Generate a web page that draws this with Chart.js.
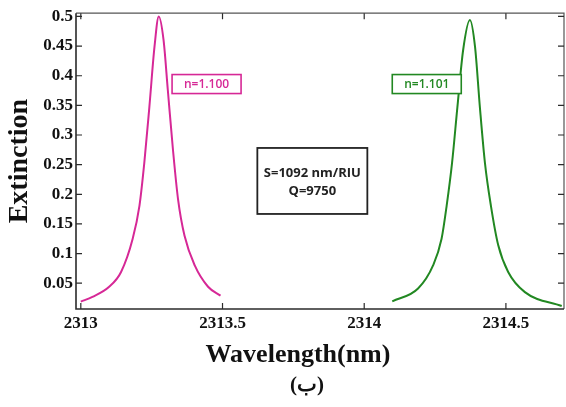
<!DOCTYPE html>
<html>
<head>
<meta charset="utf-8">
<script src="https://cdn.jsdelivr.net/npm/chart.js@4.4.1/dist/chart.umd.min.js"></script>
<style>
  html, body { margin: 0; padding: 0; background: #fff; }
  #wrap { width: 566px; height: 407px; }
</style>
</head>
<body>
<div id="wrap"><canvas id="spectrum" width="566" height="407"></canvas></div>
<script>
// values
const pinkX = [2313.0, 2313.041, 2313.1, 2313.142, 2313.183, 2313.207, 2313.224, 2313.242, 2313.26,
  2313.275, 2313.292, 2313.307, 2313.325, 2313.343, 2313.366, 2313.402, 2313.449, 2313.493];
const pinkY = [0.019, 0.027, 0.044, 0.069, 0.125, 0.181, 0.253, 0.348, 0.449,
  0.5, 0.46, 0.376, 0.276, 0.192, 0.13, 0.08, 0.044, 0.029];

const greenX = [2314.099, 2314.19, 2314.243, 2314.273, 2314.291, 2314.31, 2314.329, 2314.349, 2314.373,
  2314.391, 2314.408, 2314.426, 2314.447, 2314.473, 2314.508, 2314.567, 2314.697];
const greenY = [0.0195, 0.041, 0.08, 0.125, 0.181, 0.253, 0.348, 0.443, 0.494,
  0.449, 0.348, 0.253, 0.181, 0.114, 0.069, 0.035, 0.0115];

const xTicks = [2313, 2313.5, 2314, 2314.5];
const yTicks = [0.05, 0.1, 0.15, 0.2, 0.25, 0.3, 0.35, 0.4, 0.45, 0.5];

const seriesNames = ["n=1.100", "n=1.101"];
const infoLines = ["S=1092 nm/RIU", "Q=9750"];
const xTitle = "Wavelength(nm)";
const figTag = "(ب)";

const PINK = "rgb(214, 40, 150)";
const GREEN = "rgb(34, 136, 34)";
const AXIS = "#2b2b2b";

// where the text boxes sit, in data units (left/top for labels, centre for info box)
const labelAnchors = [[2313.322, 0.402], [2314.099, 0.402]];
const infoAnchor = [2313.817, 0.2225];

const zip = (xs, ys) => xs.map((v, i) => ({ x: v, y: ys[i] }));

const frameTicks = {
  id: "frameTicks",
  afterDatasetsDraw(chart) {
    const { ctx, chartArea: a, scales: { x, y } } = chart;
    ctx.save();
    ctx.lineWidth = 1.2;
    ctx.strokeStyle = "#555";
    ctx.beginPath();
    ctx.moveTo(a.left, a.top); ctx.lineTo(a.right, a.top); ctx.lineTo(a.right, a.bottom);
    ctx.stroke();
    ctx.lineWidth = 1.6;
    ctx.strokeStyle = AXIS;
    ctx.beginPath();
    ctx.moveTo(a.left, a.top); ctx.lineTo(a.left, a.bottom); ctx.lineTo(a.right, a.bottom);
    ctx.stroke();
    ctx.lineWidth = 1.2;
    ctx.beginPath();
    xTicks.forEach(v => {
      const px = x.getPixelForValue(v);
      ctx.moveTo(px, a.bottom); ctx.lineTo(px, a.bottom - 6);
      ctx.moveTo(px, a.top); ctx.lineTo(px, a.top + 6);
    });
    yTicks.forEach(v => {
      const py = y.getPixelForValue(v);
      ctx.moveTo(a.left, py); ctx.lineTo(a.left + 6, py);
      ctx.moveTo(a.right, py); ctx.lineTo(a.right - 6, py);
    });
    ctx.stroke();
    ctx.restore();
  }
};

const textBoxes = {
  id: "textBoxes",
  afterDatasetsDraw(chart) {
    const { ctx, scales: { x, y } } = chart;
    ctx.save();
    ctx.textAlign = "center";
    ctx.textBaseline = "middle";
    [PINK, GREEN].forEach((col, i) => {
      const bx = x.getPixelForValue(labelAnchors[i][0]);
      const by = y.getPixelForValue(labelAnchors[i][1]);
      ctx.fillStyle = "#fff";
      ctx.fillRect(bx, by, 69, 19);
      ctx.strokeStyle = col;
      ctx.lineWidth = 1.6;
      ctx.strokeRect(bx, by, 69, 19);
      ctx.fillStyle = col;
      ctx.font = "600 12px 'Open Sans'";
      ctx.fillText(seriesNames[i], bx + 34.5, by + 10);
    });
    const cx = x.getPixelForValue(infoAnchor[0]);
    const cy = y.getPixelForValue(infoAnchor[1]);
    ctx.strokeStyle = "#222";
    ctx.lineWidth = 1.8;
    ctx.strokeRect(cx - 55, cy - 33, 110, 66);
    ctx.fillStyle = "#222";
    ctx.font = "bold 13px 'Open Sans'";
    ctx.fillText(infoLines[0], cx, cy - 8);
    ctx.fillText(infoLines[1], cx, cy + 10);
    // axis title and figure tag below the plot
    ctx.fillStyle = "#111";
    ctx.font = "bold 26px 'Liberation Serif'";
    ctx.fillText(xTitle, 298, 355);
    ctx.font = "bold 21px 'Liberation Serif'";
    ctx.fillText(figTag, 307, 386);
    ctx.restore();
  }
};

const tickFont = { family: "'Liberation Serif'", size: 17, weight: "bold" };

new Chart(document.getElementById("spectrum"), {
  type: "line",
  data: {
    datasets: [
      { label: seriesNames[0], data: zip(pinkX, pinkY), borderColor: PINK, borderWidth: 2,
        pointRadius: 0, cubicInterpolationMode: "monotone", fill: false },
      { label: seriesNames[1], data: zip(greenX, greenY), borderColor: GREEN, borderWidth: 2,
        pointRadius: 0, cubicInterpolationMode: "monotone", fill: false },
    ],
  },
  options: {
    responsive: false,
    devicePixelRatio: 1,
    animation: false,
    layout: { padding: { left: 0, right: 2, top: 11, bottom: 0 } },
    plugins: { legend: { display: false }, tooltip: { enabled: false } },
    scales: {
      x: {
        type: "linear",
        min: 2312.983,
        max: 2314.705,
        afterBuildTicks: s => { s.ticks = xTicks.map(v => ({ value: v })); },
        afterFit: s => { s.height = 98; },
        grid: { display: false, drawTicks: false },
        border: { display: false },
        ticks: { padding: 4, color: "#111", font: tickFont, maxRotation: 0, callback: v => String(v) },
      },
      y: {
        min: 0.0065,
        max: 0.5055,
        afterBuildTicks: s => { s.ticks = yTicks.map(v => ({ value: v })); },
        afterFit: s => { s.width = 76; },
        grid: { display: false, drawTicks: false },
        border: { display: false },
        ticks: { padding: 3, color: "#111", font: tickFont, callback: v => String(Number(v.toFixed(2))) },
        title: {
          display: true,
          text: "Extinction",
          color: "#111",
          font: { family: "'Liberation Serif'", size: 28, weight: "bold" },
          padding: { top: 3, bottom: 0 },
        },
      },
    },
  },
  plugins: [frameTicks, textBoxes],
});
</script>
</body>
</html>
